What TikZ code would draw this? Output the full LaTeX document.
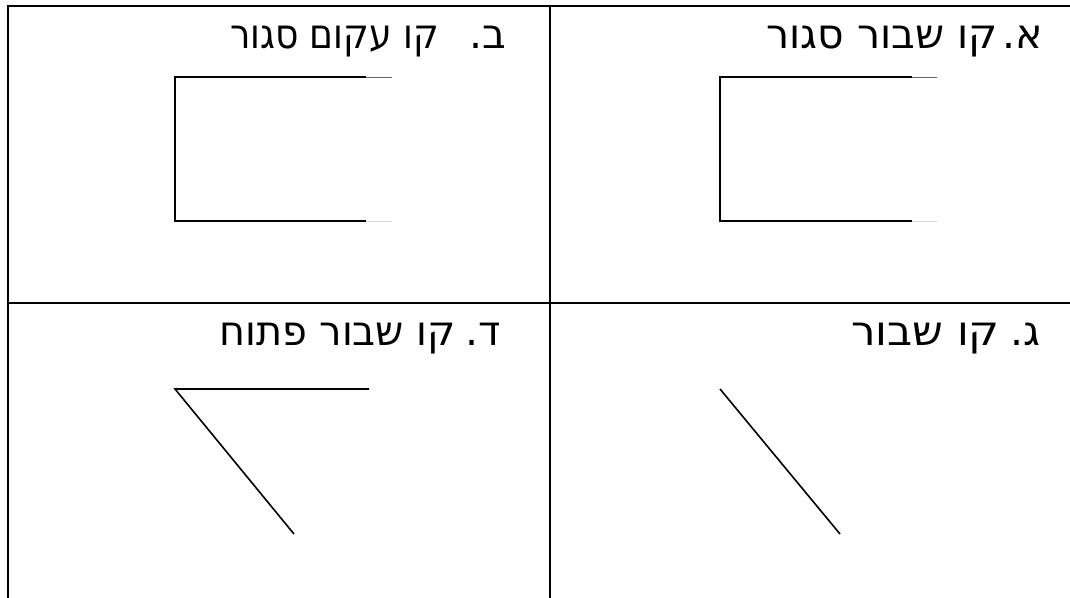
\documentclass[tikz,border=0pt]{standalone}
\usepackage{fontspec}
\newfontfamily\hebfont[Script=Hebrew]{DejaVu Sans}
\TeXXeTstate=1
\begin{document}
\begin{tikzpicture}[x=1pt,y=-1pt,
  gridline/.style={line width=2.6pt,black},
  figline/.style={line width=1.6pt,black},
  taildark/.style={line width=0.9pt,black!60},
  taillight/.style={line width=0.9pt,black!15},
  heb/.style={font=\hebfont\fontsize{41}{48}\selectfont,inner sep=0pt,anchor=base east}]
\useasboundingbox (0,0) rectangle (1070,597);
% table (its right edge lies beyond the picture)
\draw[gridline] (8,600) -- (8,6) -- (1070,6);
\draw[gridline] (550,6) -- (550,600);
\draw[gridline] (8,303) -- (1070,303);
% labels
\node[heb] (la) at (1043,48) {\beginR א.\endR};
\node[heb] (ta) at (998,48) {\beginR קו שבור סגור\endR};
\node[heb] (lb) at (506,48) {\beginR ב.\endR};
\node[heb] (tb) at (439,48) {\scalebox{0.88}[1]{\beginR קו עקום סגור\endR}};
\node[heb] (lc) at (1041,345) {\beginR ג.\endR};
\node[heb] (tc) at (1000,345) {\scalebox{1.06}[1]{\beginR קו שבור\endR}};
\node[heb] (ld) at (501,345) {\beginR ד.\endR};
\node[heb] (td) at (456,345) {\scalebox{0.97}[1]{\beginR קו שבור פתוח\endR}};
% figure A
\draw[figline] (912,77) -- (720,77) -- (720,221) -- (912,221);
\draw[taildark] (912,77) -- (937,77);
\draw[taillight] (912,221) -- (937,221);
% figure B
\draw[figline] (366,77) -- (175,77) -- (175,221) -- (366,221);
\draw[taildark] (366,77) -- (392,77);
\draw[taillight] (366,221) -- (392,221);
% figure C
\draw[figline] (720,389) -- (840,534);
% figure D
\draw[figline] (369,389) -- (175,389) -- (294,534);
\end{tikzpicture}
\end{document}
